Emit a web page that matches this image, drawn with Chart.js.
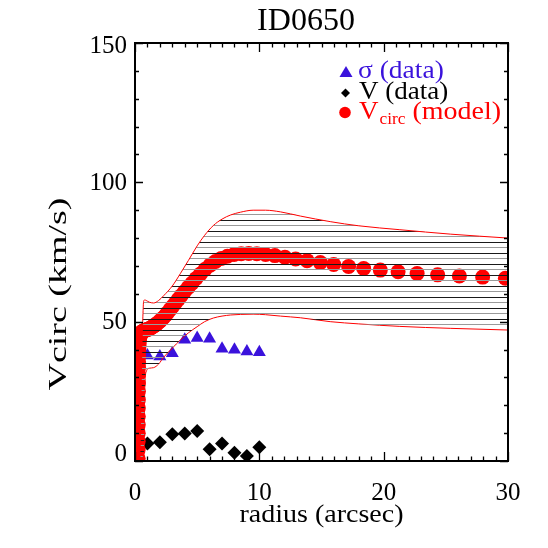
<!DOCTYPE html>
<html><head><meta charset="utf-8">
<script src="https://cdn.jsdelivr.net/npm/chart.js@4.4.1/dist/chart.umd.min.js"></script>
<style>html,body{margin:0;padding:0;background:#fff;} canvas{display:block;}</style>
</head><body>
<canvas id="c" width="548" height="548"></canvas>
<script>
// ---- texts ----
const titleText = "ID0650";
const xTitleText = "radius (arcsec)";
const yTitleText = "Vcirc (km/s)";
const legendSigma = "\u03c3 (data)";
const legendV = "V (data)";
const legendModelMain = "V";
const legendModelSub = "circ";
const legendModelTail = " (model)";

// ---- ticks ----
const xTickValues = [0, 10, 20, 30];
const yTickValues = [0, 50, 100, 150];

// ---- sigma (data) ----
const sigmaR = [1, 2, 3, 4, 5, 6, 7, 8, 9, 10];
const sigmaV = [37.9, 37.5, 38.7, 43.5, 44.1, 43.9, 40.3, 39.9, 39.3, 39.0];

// ---- V (data) ----
const velR = [1, 2, 3, 4, 5, 6, 7, 8, 9, 10];
const velV = [6.3, 6.7, 9.6, 9.9, 10.8, 4.2, 6.3, 3.0, 1.8, 4.9];

// ---- Vcirc (model) ----
const modelR = [0.250, 0.253, 0.256, 0.259, 0.262, 0.265, 0.268, 0.271, 0.274, 0.278, 0.282, 0.286, 0.290,
  0.295, 0.300, 0.310, 0.320, 0.330, 0.350, 0.380, 0.41, 0.44, 0.47, 0.50, 0.54, 0.57,
  0.61, 0.66, 0.71, 0.76, 0.81, 0.87, 0.93, 1.00, 1.07, 1.15, 1.23, 1.32, 1.42, 1.52, 1.63, 1.74, 1.87, 2.00,
  2.14, 2.30, 2.46, 2.64, 2.83, 3.03, 3.24, 3.48, 3.73, 3.99, 4.28, 4.58, 4.91, 5.26, 5.64, 6.04, 6.47, 6.94,
  7.43, 7.97, 8.54, 9.15, 9.80, 10.50, 11.25, 12.06, 12.92, 13.84, 14.90, 15.98, 17.18, 18.39, 19.73, 21.16,
  22.69, 24.34, 26.09, 27.96, 29.79];
const modelV = [1, 4, 7, 10, 13, 16, 19, 22, 25, 28, 31, 33.5, 35.5,
  37.5, 39, 40.3, 41.3, 42.2, 43.2, 44.2, 44.8, 45.3, 45.8, 46.1, 46.3, 46.4,
  46.5, 46.6, 46.7, 46.8, 46.9, 47.0, 47.1, 47.2, 47.3, 47.5, 47.7, 47.9, 48.2, 48.5, 48.8, 49.2, 49.7, 50.2,
  50.8, 51.5, 52.3, 53.3, 54.4, 55.5, 56.7, 58.0, 59.4, 60.8, 62.3, 63.8, 65.5, 67.1, 68.8, 70.3, 71.6, 72.7,
  73.5, 74.1, 74.4, 74.5, 74.4, 74.1, 73.7, 73.1, 72.5, 71.9, 71.2, 70.5, 69.8, 69.1, 68.5, 67.9,
  67.3, 66.8, 66.4, 66.0, 65.6];

// ---- model envelope ----
const envR = [0.40, 0.55, 0.62, 0.68, 0.72, 0.78, 0.9, 1.15, 1.5, 1.9, 2.3, 3.0, 3.64, 4.3, 5.0, 5.6, 6.3, 7.0, 7.7, 8.5,
  9.5, 10.5, 11.7, 13.3, 15.7, 18, 21.3, 25.4, 30];
const envUpper = [1, 40, 50, 56.8, 57.6, 57.8, 57.6, 57.0, 56.7, 57.6, 59.3, 62.8, 67.2, 72, 77.2, 81, 84.5, 86.8, 88.3, 89.3,
  90.0, 90.0, 89.4, 87.9, 85.9, 84.4, 83.0, 81.4, 80.0];
const envLower = [1, 1.2, 1.5, 2, 3, 25, 32, 33.3, 33.5, 34.8, 37.2, 40.5, 43.4, 46, 48.2, 50, 51.3, 52, 52.4, 52.6,
  52.7, 52.5, 52.0, 51.4, 50.0, 49.2, 48.3, 47.6, 47.0];

const BLUE = '#3a12dc';
const RED = '#ff0000';
const SERIF = '"Liberation Serif", "DejaVu Serif", serif';

const pts = (xs, ys) => xs.map((x, i) => ({x: x, y: ys[i]}));

const canvas = document.getElementById('c');
const mainCtx = canvas.getContext('2d');
function makeHatch() {
  const p = document.createElement('canvas');
  p.width = 8; p.height = 11;
  const g = p.getContext('2d');
  g.fillStyle = '#1a1a1a'; g.fillRect(0, 0, 8, 1);
  g.fillStyle = '#9a9a9a'; g.fillRect(0, 5, 8, 1);
  return mainCtx.createPattern(p, 'repeat');
}

function stretchText(ctx, text, x, y, font, color, sx, align, baseline) {
  ctx.save();
  ctx.font = font;
  ctx.fillStyle = color;
  ctx.textBaseline = baseline || 'alphabetic';
  const w = ctx.measureText(text).width * sx;
  let x0 = x;
  if (align === 'center') x0 = x - w / 2;
  else if (align === 'right') x0 = x - w;
  ctx.translate(x0, y);
  ctx.scale(sx, 1);
  ctx.textAlign = 'left';
  ctx.fillText(text, 0, 0);
  ctx.restore();
  return w;
}

const axisPlugin = {
  id: 'idlAxes',
  afterDraw(chart) {
    const {ctx, chartArea: a, scales: {x, y}} = chart;
    ctx.save();
    ctx.strokeStyle = '#000';
    ctx.lineWidth = 1.3;
    ctx.beginPath();
    for (let v = x.min; v <= x.max + 1e-9; v += 1) {
      const px = Math.round(x.getPixelForValue(v)) + 0.5;
      const len = (Math.abs(v % 10) < 1e-9) ? 9 : 4.5;
      ctx.moveTo(px, a.bottom); ctx.lineTo(px, a.bottom - len);
      ctx.moveTo(px, a.top); ctx.lineTo(px, a.top + len);
    }
    for (let v = y.min; v <= y.max + 1e-9; v += 10) {
      const py = Math.round(y.getPixelForValue(v)) + 0.5;
      const len = (Math.abs(v % 50) < 1e-9) ? 8 : 4;
      ctx.moveTo(a.left, py); ctx.lineTo(a.left + len, py);
      ctx.moveTo(a.right, py); ctx.lineTo(a.right - len, py);
    }
    ctx.stroke();
    ctx.lineWidth = 2;
    ctx.strokeRect(a.left, a.top, a.right - a.left, a.bottom - a.top);
    ctx.restore();

    // y tick labels (IDL style: end labels pulled inside the axis span)
    yTickValues.forEach(v => {
      let py = y.getPixelForValue(v);
      if (v === y.max) py += 3;
      else if (v === y.min) py -= 7;
      else py += 1;
      stretchText(ctx, String(v), a.left - 8, py, '25px ' + SERIF, '#000', 1.0, 'right', 'middle');
    });

    // texts
    stretchText(ctx, titleText, 306, 30, '32px ' + SERIF, '#000', 1.0, 'center');
    stretchText(ctx, xTitleText, (a.left + a.right) / 2, 522, '25px ' + SERIF, '#000', 1.12, 'center');
    ctx.save();
    ctx.translate(66, 294);
    ctx.rotate(-Math.PI / 2);
    stretchText(ctx, yTitleText, 0, 0, '26px ' + SERIF, '#000', 1.46, 'center');
    ctx.restore();

    // legend
    ctx.save();
    ctx.fillStyle = BLUE;
    ctx.beginPath();
    ctx.moveTo(346, 66); ctx.lineTo(352.5, 77); ctx.lineTo(339.5, 77); ctx.closePath(); ctx.fill();
    ctx.fillStyle = '#000';
    ctx.beginPath();
    ctx.moveTo(345.5, 88.5); ctx.lineTo(350, 93); ctx.lineTo(345.5, 97.5); ctx.lineTo(341, 93); ctx.closePath(); ctx.fill();
    ctx.fillStyle = RED;
    ctx.beginPath(); ctx.arc(345, 112.5, 5.8, 0, Math.PI * 2); ctx.fill();
    ctx.restore();
    stretchText(ctx, legendSigma, 358, 78, '25px ' + SERIF, BLUE, 1.1, 'left');
    stretchText(ctx, legendV, 359, 99, '25px ' + SERIF, '#000', 1.08, 'left');
    let w = stretchText(ctx, legendModelMain, 359, 119, '25px ' + SERIF, RED, 1.08, 'left');
    let w2 = stretchText(ctx, legendModelSub, 359 + w + 1, 124, '16px ' + SERIF, RED, 1.08, 'left');
    stretchText(ctx, legendModelTail, 359 + w + 1 + w2, 119, '25px ' + SERIF, RED, 1.12, 'left');
  }
};

new Chart(canvas, {
  type: 'line',
  data: {
    datasets: [
      {
        label: 'upper', data: pts(envR, envUpper), showLine: true, borderColor: RED, borderWidth: 1,
        pointRadius: 0, fill: '+1', backgroundColor: makeHatch(), cubicInterpolationMode: 'monotone', clip: 0
      },
      {
        label: 'lower', data: pts(envR, envLower), showLine: true, borderColor: RED, borderWidth: 1,
        pointRadius: 0, fill: false, cubicInterpolationMode: 'monotone', clip: 0
      },
      {
        label: 'model', data: pts(modelR, modelV), showLine: false, pointStyle: 'circle', pointRadius: 7.5,
        pointBackgroundColor: RED, pointBorderWidth: 0, pointBorderColor: RED, clip: 0
      },
      {
        label: 'sigma', data: pts(sigmaR, sigmaV), showLine: false, pointStyle: 'triangle', pointRadius: 7.5,
        pointBackgroundColor: BLUE, pointBorderWidth: 0, pointBorderColor: BLUE, clip: 0
      },
      {
        label: 'V', data: pts(velR, velV), showLine: false, pointStyle: 'rectRot', pointRadius: 7,
        pointBackgroundColor: '#000', pointBorderWidth: 0, pointBorderColor: '#000', clip: 0
      }
    ]
  },
  options: {
    responsive: false,
    animation: false,
    devicePixelRatio: 1,
    layout: {padding: {top: 43, right: 40, left: 0, bottom: 0}},
    plugins: {legend: {display: false}, tooltip: {enabled: false}, title: {display: false}},
    elements: {point: {hoverRadius: 0}},
    scales: {
      x: {
        type: 'linear', min: 0, max: 30,
        afterBuildTicks: s => { s.ticks = xTickValues.map(v => ({value: v})); },
        afterFit: s => { s.height = 87; },
        grid: {display: false, drawTicks: false},
        border: {display: false},
        ticks: {font: {family: SERIF, size: 25}, color: '#000', padding: 17, maxRotation: 0, autoSkip: false,
          callback: v => String(v)}
      },
      y: {
        type: 'linear', min: 0, max: 150,
        afterBuildTicks: s => { s.ticks = yTickValues.map(v => ({value: v})); },
        afterFit: s => { s.width = 135; },
        grid: {display: false, drawTicks: false},
        border: {display: false},
        ticks: {display: false}
      }
    }
  },
  plugins: [axisPlugin]
});
</script>
</body></html>
